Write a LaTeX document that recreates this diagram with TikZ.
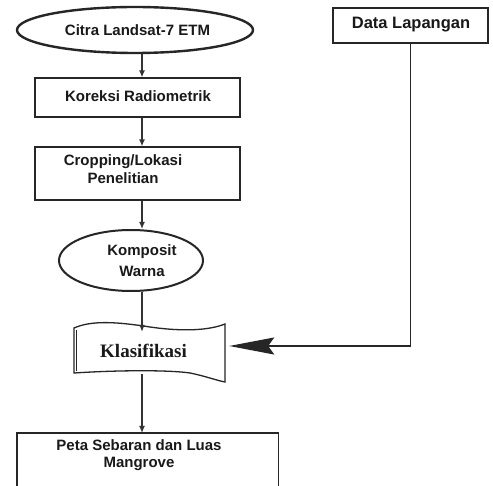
\documentclass[tikz,border=0pt]{standalone}
\usepackage{fontspec}
\setmainfont{Liberation Sans}
\newfontfamily\serifklas{Liberation Serif}
\usetikzlibrary{shapes.geometric,arrows.meta}
\tikzset{
  x=1pt,y=1pt,
  lbl/.style={font=\fontsize{15}{18}\selectfont\bfseries, text=black!90, align=center},
  boxnode/.style={draw=black!85, line width=1.2pt, rectangle, inner sep=0pt},
  ovalnode/.style={draw=black!85, ellipse, inner sep=0pt},
  arr/.style={draw=black!80, line width=1.3pt, -{Latex[length=7pt,width=6pt]}},
  bigarr/.style={draw=black!85, line width=1.6pt, -{Stealth[length=45pt,width=17pt,inset=6pt]}},
  tape/.style={draw=black!85, line width=1.3pt}
}
\begin{document}
\begin{tikzpicture}
\useasboundingbox (0,0) rectangle (493,-486);
\fill[white] (0,0) rectangle (493,-486);

% Citra ellipse
\node[ovalnode, line width=2.4pt, minimum width=236pt, minimum height=46pt] (citra) at (135,-30) {};
\node[lbl] (citratxt) at (137.5,-30) {Citra Landsat-7 ETM};

% Koreksi
\node[boxnode, minimum width=205pt, minimum height=39pt] (kor) at (137.5,-97.5) {};
\node[lbl] (kortxt) at (138,-96) {Koreksi Radiometrik};

% Cropping
\node[boxnode, minimum width=205pt, minimum height=53pt] (crop) at (137.5,-173.5) {};
\node[lbl] (croptxt) at (123,-169) {Cropping/Lokasi\\Penelitian};

% Komposit ellipse
\node[ovalnode, line width=2pt, minimum width=144pt, minimum height=61pt] (komp) at (131,-260.5) {};
\node[lbl, font=\fontsize{15}{21}\selectfont\bfseries] (komptxt) at (142,-261) {Komposit\\Warna};

% Klasifikasi (tape)
\node[inner sep=0pt, minimum width=174pt, minimum height=40pt] (klas) at (142,-346) {};
\draw[tape] (74,-328) .. controls (92,-320) and (118,-322) .. (150,-327)
  .. controls (185,-332) and (210,-330) .. (225,-324)
  -- (225,-382)
  .. controls (215,-380) and (205,-376) .. (190,-373)
  .. controls (170,-370) and (120,-370) .. (74,-373) -- cycle;
\draw[black!85, line width=1.3pt] (76.5,-330) -- (76.5,-371);
\node[font=\serifklas\fontsize{19}{22}\selectfont\bfseries, text=black!90] (klastxt) at (143.5,-351) {Klasifikasi};

% Peta (open at bottom)
\node[inner sep=0pt, anchor=north west, minimum width=261pt, minimum height=53pt] (peta) at (17,-433) {};
\draw[black!85, line width=1.2pt] (peta.south west) -- (peta.north west) -- (peta.north east) -- (peta.south east);
\node[lbl, font=\fontsize{15}{17}\selectfont\bfseries] (petatxt) at (139,-455) {Peta Sebaran dan Luas\\Mangrove};

% Data Lapangan
\node[boxnode, minimum width=155pt, minimum height=35pt] (data) at (410.5,-25.5) {};
\node[lbl, font=\fontsize{16.5}{18}\selectfont\bfseries] (datatxt) at (411,-25) {Data Lapangan};

% connectors
\draw[arr] (citra.south -| klas) -- (kor.north -| klas);
\draw[arr] (kor.south -| klas) -- (crop.north -| klas);
\draw[arr] (crop.south -| klas) -- (komp.north -| klas);
\draw[arr] (komp.south -| klas) -- ([yshift=-6pt]klas.north);
\draw[arr] ([yshift=-8pt]klas.south) -- (peta.north -| klas);
\draw[bigarr] (data.south) |- (klas.east);
\end{tikzpicture}
\end{document}
